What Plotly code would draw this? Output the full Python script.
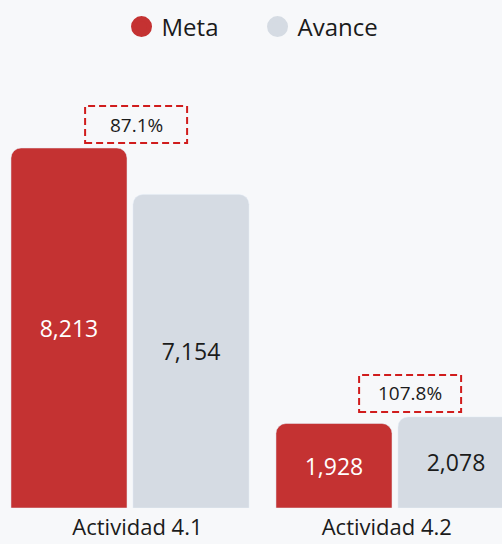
import plotly.graph_objects as go

categories = ["Actividad 4.1", "Actividad 4.2"]
meta = [8213, 1928]
avance = [7154, 2078]
series_names = ["Meta", "Avance"]

RED = "#c43232"
GRAY = "#d5dbe3"
BG = "#f7f8fa"
TXT = "#1b1b1b"
FONT = "Open Sans, Inter, sans-serif"

x = list(range(len(categories)))
pct = [a / m * 100 for a, m in zip(avance, meta)]

fig = go.Figure()
fig.add_trace(go.Bar(
    x=x, y=meta, name=series_names[0], marker=dict(color=RED, cornerradius=10),
    text=[f"{v:,}" for v in meta], textposition="inside", insidetextanchor="middle",
    textfont=dict(color="white", size=23, family=FONT), showlegend=False,
    hoverinfo="skip"))
fig.add_trace(go.Bar(
    x=x, y=avance, name=series_names[1], marker=dict(color=GRAY, cornerradius=10),
    text=[f"{v:,}" for v in avance], textposition="inside", insidetextanchor="middle",
    textfont=dict(color=TXT, size=23, family=FONT), showlegend=False,
    hoverinfo="skip"))
# legend entries (circle markers)
for nm, col in zip(series_names, [RED, GRAY]):
    fig.add_trace(go.Scatter(x=[None], y=[None], mode="markers", name=nm,
                             marker=dict(symbol="circle", size=18, color=col,
                                         line=dict(color=col, width=5))))

# dashed percentage boxes
for i, (p, m, a) in enumerate(zip(pct, meta, avance)):
    top = max(m, a)
    xc = i + (0.023 if i == 0 else 0.057)
    fig.add_shape(type="rect", xref="x", yref="y", xsizemode="pixel", ysizemode="pixel",
                  xanchor=xc, yanchor=top, x0=-51, x1=51, y0=5, y1=42,
                  line=dict(color="#d01c1c", width=2, dash="7px,4px"),
                  fillcolor="rgba(0,0,0,0)")
    fig.add_annotation(x=xc, y=top, xref="x", yref="y", text=f"{p:.1f}%",
                       showarrow=False, yshift=23.5, yanchor="middle",
                       font=dict(size=19, color=TXT, family=FONT))

ppu = 265.0
label_shift = [0.028, -0.031]
fig.update_layout(
    width=502, height=544,
    margin=dict(l=0, r=0, t=60, b=36, autoexpand=False),
    paper_bgcolor=BG, plot_bgcolor=BG,
    barmode="group", bargap=0.0792, bargroupgap=0.049,
    font=dict(family=FONT, color=TXT),
    showlegend=True,
    legend=dict(orientation="h", x=0.513, xanchor="center", y=1.0737, yanchor="middle",
                font=dict(size=24, color=TXT, family=FONT), bgcolor="rgba(0,0,0,0)",
                entrywidth=91, entrywidthmode="pixels", itemclick=False),
    xaxis=dict(range=[-130 / ppu, (502 - 130) / ppu], automargin=False,
               tickvals=[v + s for v, s in zip(x, label_shift)], ticktext=categories,
               showgrid=False, zeroline=False, showline=False, ticks="",
               ticklabelstandoff=4,
               tickfont=dict(size=22, color=TXT, family=FONT), fixedrange=True),
    yaxis=dict(range=[0, 448 * 8213 / 360], visible=False, showgrid=False,
               automargin=False, zeroline=False, fixedrange=True),
)
fig.write_html("out.html", config={"displayModeBar": False},
               post_script="document.body.style.margin='0';")
